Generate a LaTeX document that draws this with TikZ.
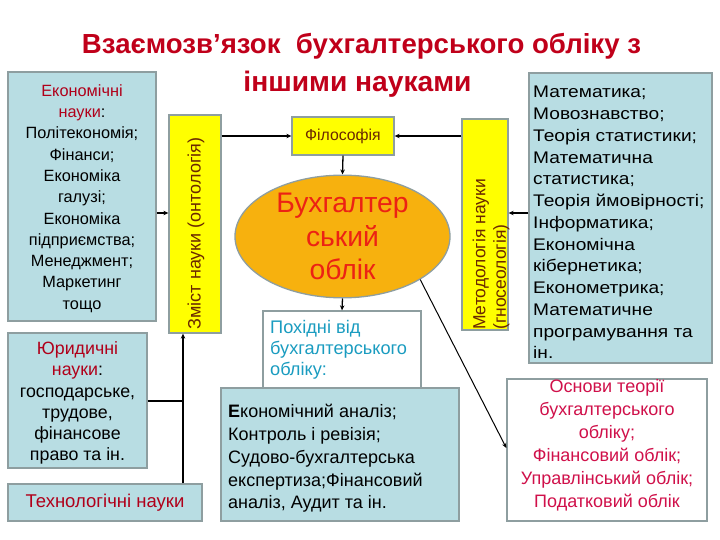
\documentclass[tikz,border=0pt]{standalone}
\usepackage{fontspec}
\setmainfont{Liberation Sans}
\newfontfamily\widefont[FakeStretch=1.14]{Liberation Sans}
\usetikzlibrary{shapes.geometric,arrows.meta}
\definecolor{teal0}{HTML}{B8DDE3}
\definecolor{bord}{HTML}{8E9EA0}
\definecolor{ylw}{HTML}{FFFF00}
\definecolor{orng}{HTML}{F7B10E}
\definecolor{titred}{HTML}{C0001A}
\definecolor{hdred}{HTML}{B0001A}
\definecolor{ellred}{HTML}{EC2214}
\definecolor{crim}{HTML}{D0104A}
\definecolor{tealtxt}{HTML}{1A9CC0}
\definecolor{brn}{HTML}{6A2800}
\tikzset{
  tbox/.style={draw=bord, line width=1.3pt, fill=teal0, inner sep=0pt},
  wbox/.style={draw=bord, line width=1.3pt, fill=white, inner sep=0pt},
  ybox/.style={draw=bord, line width=1.3pt, fill=ylw, inner sep=0pt},
  arr/.style={line width=1.3pt, -{Stealth[length=5pt,width=4.5pt]}},
  ln/.style={line width=1.3pt},
}
\begin{document}
\begin{tikzpicture}[x=1pt,y=-1pt]
\useasboundingbox (0,0) rectangle (720,540);
% title
\node[font=\bfseries\fontsize{27.6}{38}\selectfont, text=titred, anchor=base] (t1) at (361.5,54) {Взаємозв’язок\ \ бухгалтерського обліку з};
\node[font=\bfseries\fontsize{28.2}{38}\selectfont, text=titred, anchor=base] (t2) at (357.5,92) {іншими науками};
% left boxes
\node[tbox, minimum width=148pt, minimum height=249pt] (econ) at (82,196.5) {};
\node[align=center, inner sep=0pt, font=\fontsize{16.3}{21.3}\selectfont] (econt) at (82,198.5)
 {\textcolor{hdred}{Економічні}\\ \textcolor{hdred}{науки}:\\ Політекономія;\\ Фінанси;\\ Економіка\\ галузі;\\ Економіка\\ підприємства;\\ Менеджмент;\\ Маркетинг\\ тощо};
\node[tbox, minimum width=139pt, minimum height=135pt] (jur) at (77.5,400.5) {};
\node[align=center, inner sep=0pt, font=\fontsize{17.8}{21.2}\selectfont] (jurt) at (77.5,403)
 {\textcolor{hdred}{Юридичні}\\ \textcolor{hdred}{науки}:\\ господарське,\\ трудове,\\ фінансове\\ право та ін.};
\node[tbox, minimum width=194pt, minimum height=37pt, font=\fontsize{18.5}{22}\selectfont, text=hdred] (tech) at (105,502.5) {Технологічні науки};
% yellow boxes
\node[ybox, minimum width=52pt, minimum height=218pt] (lylw) at (195,224) {};
\node[rotate=90, text=brn, inner sep=0pt, font=\fontsize{18}{20}\selectfont] (lylwt) at (196,233.5) {Зміст науки (онтологія)};
\node[ybox, minimum width=46pt, minimum height=211pt] (rylw) at (485,224.5) {};
\node[rotate=90, anchor=west, align=left, inner sep=0pt, text=brn, font=\fontsize{17.5}{20.5}\selectfont] (rylwt) at (491,330) {Методологія науки\\(гносеологія)};
\node[ybox, minimum width=102pt, minimum height=38pt, text=brn, font=\fontsize{15.8}{18}\selectfont] (phil) at (343,136) {Філософія};
% ellipse
\node[ellipse, draw=bord, line width=1.3pt, fill=orng, minimum width=215pt, minimum height=117pt, inner sep=0pt, align=center, text=ellred, font=\fontsize{28.3}{33.5}\selectfont] (ell) at (342.5,236.5) {Бухгалтер\\ський\\облік};
% math box
\node[tbox, minimum width=183pt, minimum height=290pt] (math) at (620.5,218) {};
\node[anchor=west, align=left, inner sep=0pt, font=\widefont\fontsize{16.8}{21.75}\selectfont] (matht) at (533,222.5)
 {Математика;\\ Мовознавство;\\ Теорія статистики;\\ Математична\\ статистика;\\ Теорія ймовірності;\\ Інформатика;\\ Економічна\\ кібернетика;\\ Економетрика;\\ Математичне\\ програмування та\\ ін.};
% derived
\node[wbox, minimum width=158pt, minimum height=77pt] (deriv) at (342,349.5) {};
\node[anchor=north west, align=left, inner sep=0pt, text=tealtxt, font=\fontsize{18.2}{21}\selectfont] (derivt) at (270,320) {Похідні від\\ бухгалтерського\\ обліку:};
\node[tbox, minimum width=238pt, minimum height=133pt] (anal) at (340,454.5) {};
\node[anchor=west, align=left, inner sep=0pt, font=\fontsize{18}{22.8}\selectfont] (analt) at (228,458.5)
 {\textbf{Е}кономічний аналіз;\\ Контроль і ревізія;\\ Судово-бухгалтерська\\ експертиза;Фінансовий\\ аналіз, Аудит та ін.};
\node[wbox, minimum width=200pt, minimum height=142pt] (osn) at (607,450) {};
\node[align=center, inner sep=0pt, text=crim, font=\fontsize{18}{23}\selectfont] (osnt) at (607,445.5)
 {Основи теорії\\ бухгалтерського\\ обліку;\\ Фінансовий облік;\\ Управлінський облік;\\ Податковий облік};
% connectors
\draw[arr] (econ.east |- 0,213) -- (lylw.west |- 0,213);
\coordinate (jx) at (183,401);
\draw[ln] (jur.east |- jx) -- (jx);
\draw[arr] (tech.north -| jx) -- (lylw.south -| jx);
\draw[arr] (lylw.east |- phil.west) -- (phil.west);
\draw[arr] (rylw.west |- phil.east) -- (phil.east);
\draw[arr] (phil.south) -- (ell.north);
\draw[arr] (ell.south) -- (deriv.north);
\draw[arr] (math.west |- 0,213) -- (rylw.east |- 0,213);
\draw[line width=1pt, -{Stealth[length=5pt,width=4.5pt]}] (ell.-29) -- (osn.west |- 0,448);
\end{tikzpicture}
\end{document}
